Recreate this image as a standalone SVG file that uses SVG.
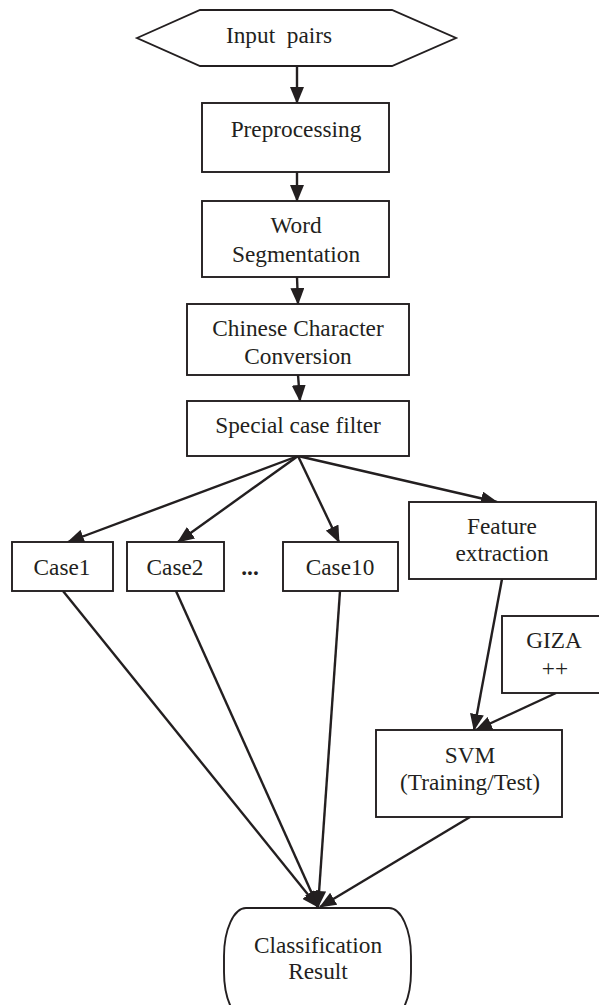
<svg xmlns="http://www.w3.org/2000/svg" width="599" height="1005" viewBox="0 0 599 1005">
<style>
.n{fill:#fff;stroke:#231f20;stroke-width:1.9}
.t{font-family:"Liberation Serif","Times New Roman",serif;font-size:23.3px;fill:#231f20;text-anchor:middle}
.c{stroke:#231f20;stroke-width:2.4;fill:none;marker-end:url(#ah)}
</style>
<defs>
<marker id="ah" markerUnits="userSpaceOnUse" markerWidth="17" markerHeight="14" refX="16" refY="7" orient="auto">
<path d="M0,0 L17,7 L0,14 Z" fill="#231f20"/>
</marker>
</defs>
<rect width="599" height="1005" fill="#fff"/>
<g id="connectors">
<line class="c" x1="297" y1="66" x2="297" y2="103"/>
<line class="c" x1="297" y1="172" x2="297" y2="201"/>
<line class="c" x1="297" y1="277" x2="298" y2="304"/>
<line class="c" x1="298" y1="375" x2="300" y2="401"/>
<line class="c" x1="298" y1="456" x2="68" y2="542"/>
<line class="c" x1="298" y1="456" x2="178" y2="542"/>
<line class="c" x1="298" y1="456" x2="339" y2="542"/>
<line class="c" x1="298" y1="456" x2="497" y2="502"/>
<line class="c" x1="63" y1="591" x2="318" y2="907"/>
<line class="c" x1="176" y1="591" x2="318" y2="907"/>
<line class="c" x1="340" y1="591" x2="318" y2="907"/>
<line class="c" x1="470" y1="817" x2="320" y2="907"/>
<line class="c" x1="502" y1="579" x2="474" y2="730"/>
<line class="c" x1="556" y1="693" x2="476" y2="730"/>
</g>
<g id="input">
<polygon class="n" points="137,38 200,10 392,10 456,38 392,66 200,66"/>
<text class="t" x="279" y="43" style="white-space:pre">Input  pairs</text>
</g>
<g id="preprocessing">
<rect class="n" x="202" y="103" width="187" height="69"/>
<text class="t" x="296" y="137">Preprocessing</text>
</g>
<g id="wordseg">
<rect class="n" x="202" y="201" width="187" height="76"/>
<text class="t" x="296" y="233">Word</text>
<text class="t" x="296" y="262">Segmentation</text>
</g>
<g id="chinese">
<rect class="n" x="187" y="304" width="222" height="71"/>
<text class="t" x="298" y="336">Chinese Character</text>
<text class="t" x="298" y="364">Conversion</text>
</g>
<g id="special">
<rect class="n" x="187" y="401" width="222" height="55"/>
<text class="t" x="298" y="433">Special case filter</text>
</g>
<g id="case1">
<rect class="n" x="12" y="542" width="101" height="49"/>
<text class="t" x="62" y="575">Case1</text>
</g>
<g id="case2">
<rect class="n" x="127" y="542" width="97" height="49"/>
<text class="t" x="175" y="575">Case2</text>
</g>
<g id="dots">
<text class="t" x="250" y="575" style="font-weight:bold">...</text>
</g>
<g id="case10">
<rect class="n" x="283" y="542" width="115" height="49"/>
<text class="t" x="340" y="575">Case10</text>
</g>
<g id="feature">
<rect class="n" x="409" y="502" width="187" height="77"/>
<text class="t" x="502" y="534">Feature</text>
<text class="t" x="502" y="561">extraction</text>
</g>
<g id="giza">
<rect class="n" x="502" y="616" width="100" height="77"/>
<text class="t" x="554" y="648">GIZA</text>
<text class="t" x="555" y="676">++</text>
</g>
<g id="svm">
<rect class="n" x="376" y="730" width="186" height="87"/>
<text class="t" x="470" y="763">SVM</text>
<text class="t" x="470" y="790">(Training/Test)</text>
</g>
<g id="result">
<rect class="n" x="224" y="908" width="187" height="112" rx="22" ry="48"/>
<text class="t" x="318" y="953">Classification</text>
<text class="t" x="318" y="979">Result</text>
</g>
</svg>
